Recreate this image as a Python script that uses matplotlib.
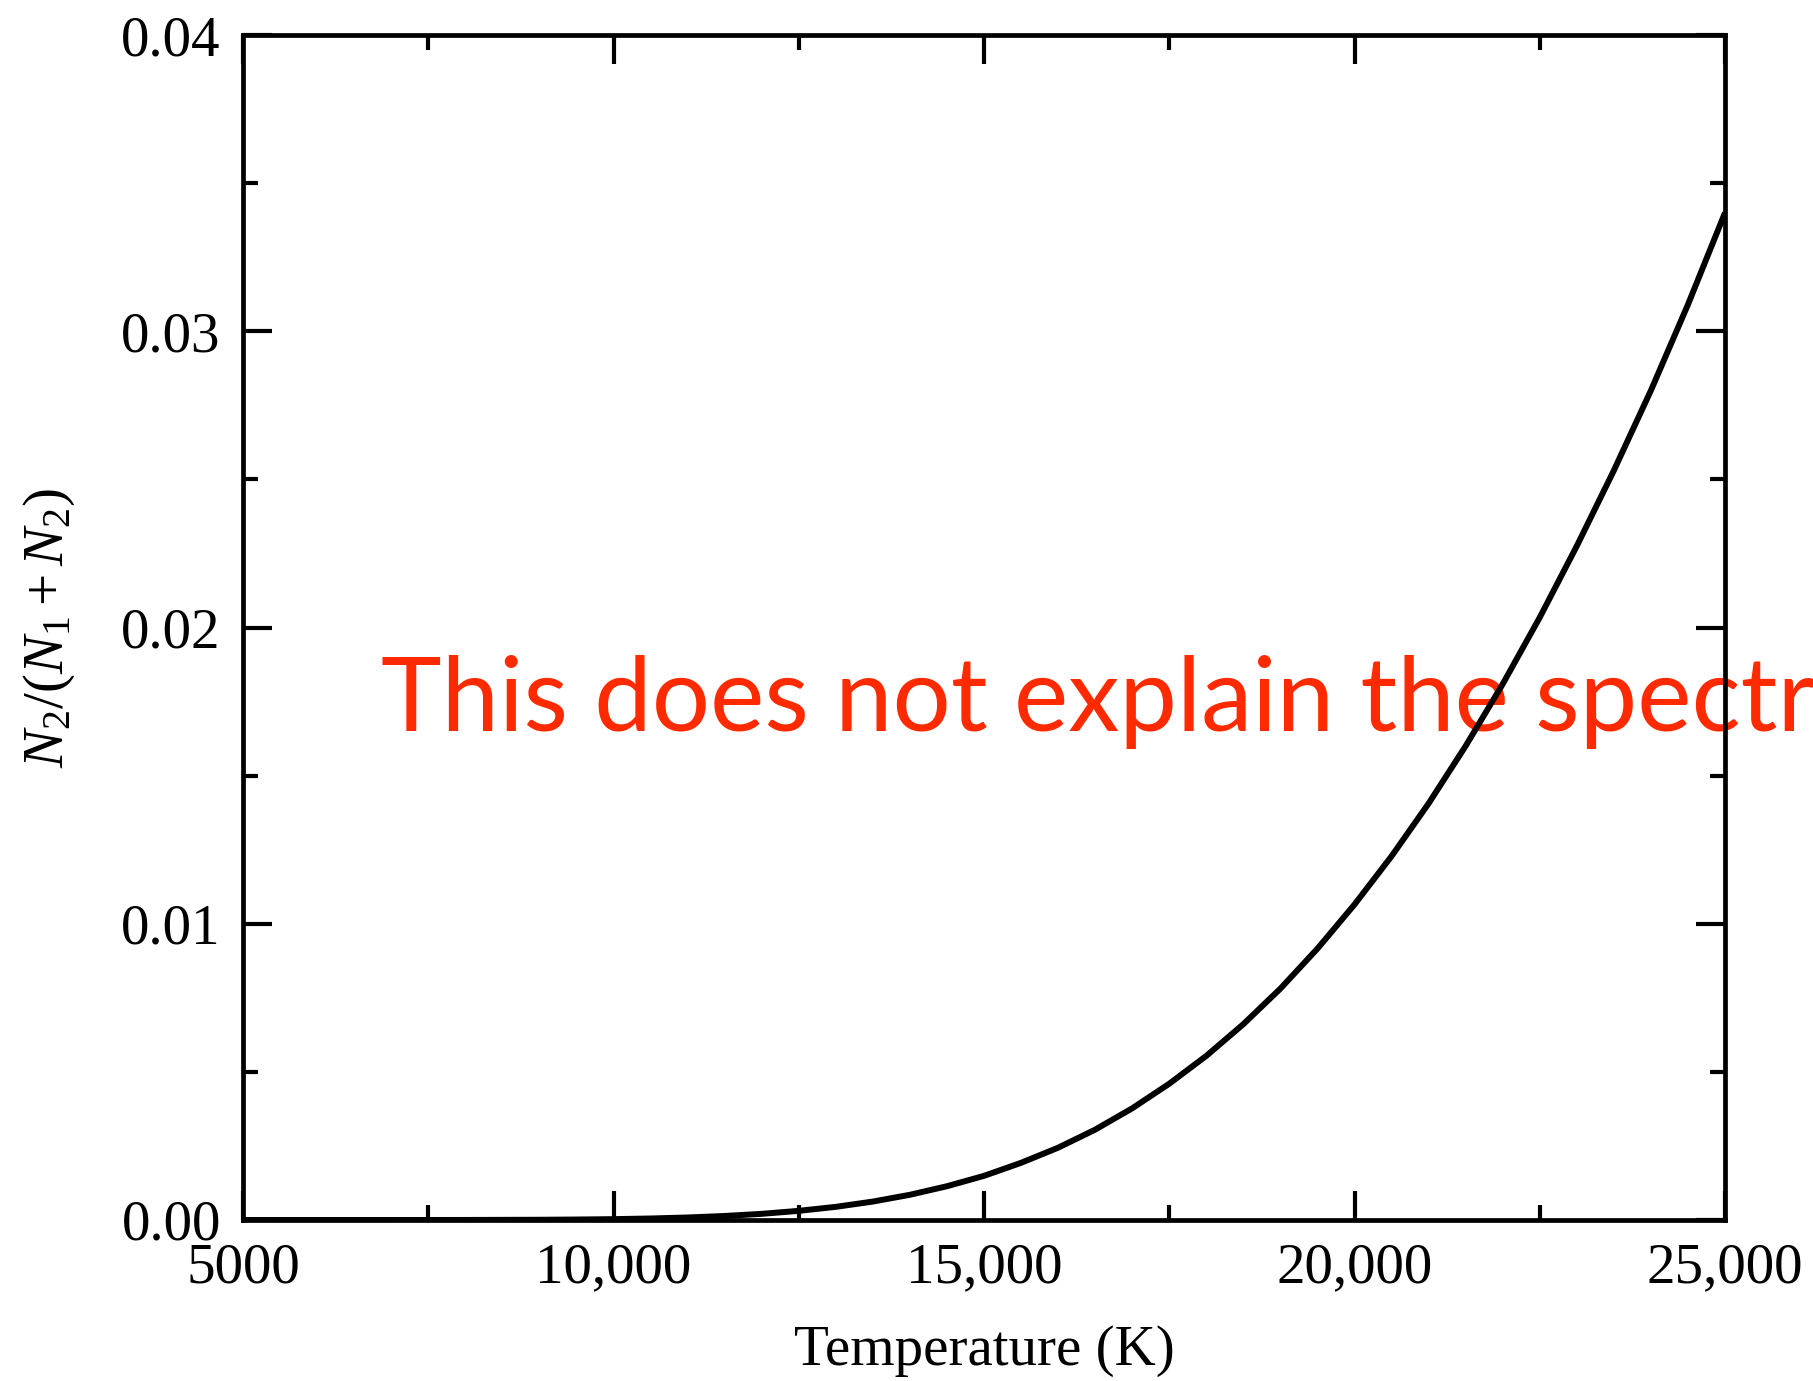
import matplotlib
matplotlib.use("Agg")
import matplotlib.pyplot as plt
from matplotlib.ticker import MultipleLocator

# Data (temperature in K, fraction N2/(N1+N2))
temperature = [5000, 6000, 7000, 8000, 9000, 9500, 10000, 10500, 11000, 11500,
               12000, 12500, 13000, 13500, 14000, 14500, 15000, 15500, 16000,
               16500, 17000, 17500, 18000, 18500, 19000, 19500, 20000, 20500,
               21000, 21500, 22000, 22500, 23000, 23500, 24000, 24500, 25000]
fraction = [0.0, 0.0, 0.0, 0.0000015, 0.000008, 0.000016, 0.000029, 0.000051,
            0.000085, 0.000136, 0.000208, 0.000309, 0.000444, 0.000622,
            0.000851, 0.00114, 0.00149, 0.00193, 0.00244, 0.00305, 0.00377,
            0.00460, 0.00554, 0.00661, 0.00781, 0.00916, 0.01065, 0.01228,
            0.01406, 0.01600, 0.01809, 0.02034, 0.02275, 0.02530, 0.02800,
            0.03090, 0.03400]

x_ticks = [5000, 10000, 15000, 20000, 25000]
x_tick_labels = ["5000", "10,000", "15,000", "20,000", "25,000"]
y_ticks = [0.00, 0.01, 0.02, 0.03, 0.04]
y_tick_labels = ["0.00", "0.01", "0.02", "0.03", "0.04"]
overlay_text = "This does not explain the spectral sequence!"

plt.rcParams['mathtext.fontset'] = 'custom'
plt.rcParams['mathtext.rm'] = 'Liberation Serif'
plt.rcParams['mathtext.it'] = 'Liberation Serif:italic'
plt.rcParams['mathtext.bf'] = 'Liberation Serif:bold'

fig = plt.figure(figsize=(18.13, 13.81), dpi=100)
ax = fig.add_axes([243/1813, 1 - 1220/1381, (1725-243)/1813, (1220-35)/1381])

ax.plot(temperature, fraction, color='black', lw=4.3, zorder=2,
        solid_capstyle='butt', solid_joinstyle='round')

ax.set_xlim(5000, 25000)
ax.set_ylim(0, 0.04)
ax.set_xticks(x_ticks)
ax.set_xticklabels(x_tick_labels)
ax.set_yticks(y_ticks)
ax.set_yticklabels(y_tick_labels)
ax.xaxis.set_minor_locator(MultipleLocator(2500))
ax.yaxis.set_minor_locator(MultipleLocator(0.005))

ax.tick_params(which='both', direction='in', top=True, right=True,
               width=3.0, colors='black')
ax.tick_params(which='major', length=21, pad=16, labelsize=41)
ax.tick_params(which='minor', length=11)
for lab in ax.get_xticklabels() + ax.get_yticklabels():
    lab.set_fontfamily('Liberation Serif')

for sp in ax.spines.values():
    sp.set_linewidth(3.4)

ax.set_xlabel("Temperature (K)", fontfamily='Liberation Serif', fontsize=41,
              labelpad=22)
ax.set_ylabel(r"$N_2/(N_1 + N_2)$", fontsize=41, labelpad=32)

ax.text(381/1813, 1 - 731/1381, overlay_text, transform=fig.transFigure,
        fontfamily='Lato', fontsize=74, color='#ff2a00', ha='left',
        va='baseline', clip_on=False, zorder=1)

fig.savefig("out.png", dpi=100, facecolor='white')
